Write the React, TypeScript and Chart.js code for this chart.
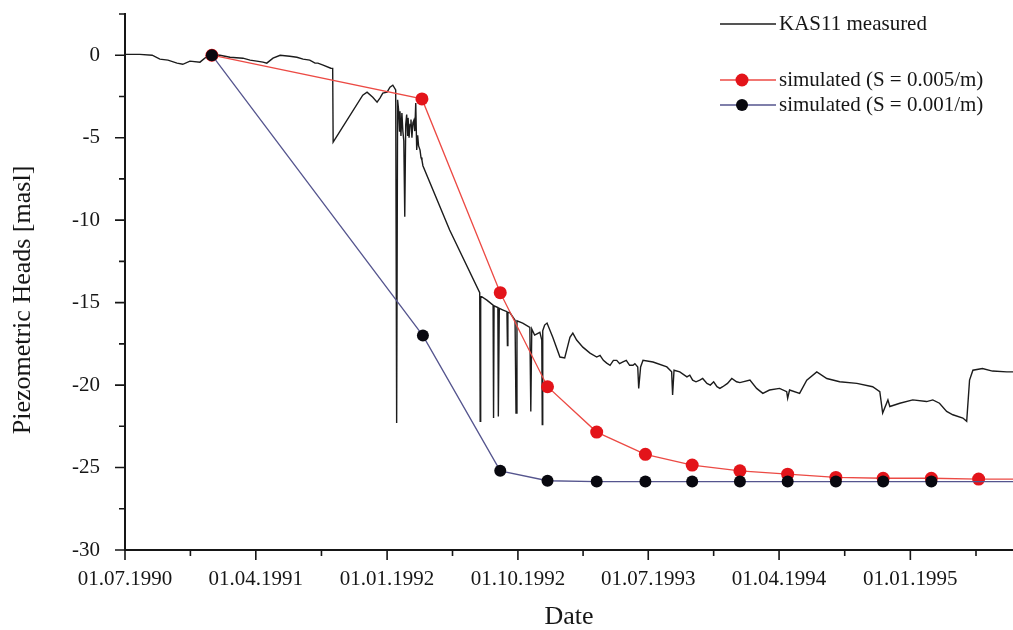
import { useEffect, useRef } from 'react';
import { Chart, registerables } from 'chart.js';

Chart.register(...registerables);

// Calendar origin of the x axis (days are counted from this date)
const ORIGIN = '01.07.1990';
const X_MAX_DAYS = 1860;

// Labelled date ticks on the x axis
const tickDates = ['01.07.1990', '01.04.1991', '01.01.1992', '01.10.1992', '01.07.1993', '01.04.1994', '01.01.1995'];

// Head ticks (every 2.5 m, labelled every 5 m)
const headTicks = [-30, -27.5, -25, -22.5, -20, -17.5, -15, -12.5, -10, -7.5, -5, -2.5, 0, 2.5];

// KAS11 measured piezometric head: [days since origin, head in masl]
const measuredKAS11: [number, number][] = [
  [0, 0.05], [31, 0.05], [57, 0], [73, -0.24], [90, -0.3], [109, -0.48], [121, -0.55], [136, -0.36],
  [157, -0.42], [172, -0.06], [180, 0.05], [199, 0], [220, -0.12], [247, -0.18], [262, -0.3], [276, -0.36],
  [289, -0.42], [297, -0.48], [310, -0.18], [325, 0], [345, -0.06], [360, -0.12], [373, -0.24], [387, -0.3],
  [398, -0.48], [404, -0.48], [415, -0.6], [431, -0.79], [435, -0.8], [436, -5.27], [498, -2.42], [507, -2.24],
  [519, -2.55], [528, -2.85], [534, -2.6], [540, -2.3], [549, -2.24], [555, -1.94], [561, -1.82], [567, -2.1],
  [569, -22.3], [571, -2.7], [573, -3.3], [575, -4.6], [576, -3.4], [578, -4.9], [580, -3.5], [582, -4.6],
  [584, -5.2], [586, -9.8], [588, -4.2], [590, -3.6], [592, -4.9], [593, -3.8], [595, -5.0], [597, -4.2],
  [599, -3.9], [601, -5.0], [603, -4.1], [605, -3.95], [607, -4.6], [609, -2.9], [611, -5.75], [613, -4.85],
  [615, -5.5], [618, -5.75], [620, -6.2], [622, -6.36], [624, -6.7], [680, -10.6], [743, -14.4], [744, -22.2],
  [745, -14.6], [758, -14.85], [771, -15.15], [772, -22.0], [773, -15.2], [781, -15.3], [782, -21.9], [784, -15.35],
  [792, -15.45], [800, -15.55], [801, -17.6], [802, -15.6], [806, -15.6], [817, -16.06], [819, -21.7], [821, -16.1],
  [833, -16.24], [848, -16.5], [850, -21.6], [852, -16.6], [858, -16.97], [869, -16.8], [873, -17.27], [874, -22.4],
  [875, -16.7], [879, -16.36], [884, -16.24], [896, -17.1], [911, -18.3], [921, -18.36], [932, -17.1], [938, -16.85],
  [946, -17.27], [959, -17.7], [974, -18.06], [988, -18.3], [995, -18.2], [1002, -18.5], [1009, -18.67], [1016, -18.8],
  [1023, -18.5], [1030, -18.5], [1036, -18.7], [1043, -18.6], [1050, -18.5], [1057, -18.8], [1064, -18.8], [1068, -18.7],
  [1074, -18.9], [1076, -20.2], [1080, -18.9], [1085, -18.5], [1106, -18.6], [1135, -18.9], [1145, -19.2], [1147, -20.6],
  [1150, -19.1], [1162, -19.2], [1177, -19.5], [1183, -19.4], [1189, -19.7], [1196, -19.8], [1204, -19.7], [1210, -19.6],
  [1219, -19.9], [1226, -20.0], [1233, -19.8], [1240, -20.1], [1246, -20.2], [1252, -20.1], [1262, -19.9], [1271, -19.6],
  [1281, -19.8], [1288, -19.85], [1309, -19.7], [1323, -20.2], [1336, -20.5], [1350, -20.3], [1371, -20.2], [1386, -20.4],
  [1388, -20.8], [1392, -20.3], [1413, -20.5], [1428, -19.7], [1449, -19.2], [1470, -19.6], [1497, -19.8], [1533, -19.9],
  [1566, -20.1], [1581, -20.4], [1587, -21.7], [1598, -20.9], [1602, -21.3], [1623, -21.1], [1650, -20.9], [1679, -21.0],
  [1692, -20.9], [1706, -21.1], [1721, -21.6], [1734, -21.8], [1755, -22.0], [1763, -22.2], [1769, -19.7], [1776, -19.1],
  [1796, -19.0], [1817, -19.15], [1847, -19.2], [1860, -19.2],
];

// Simulated heads, storage coefficient S = 0.005/m
const simDaysS005 = [182, 622, 786, 885, 988, 1090, 1188, 1288, 1388, 1489, 1588, 1689, 1788, 1888];
const simHeadsS005 = [0, -2.65, -14.4, -20.1, -22.85, -24.2, -24.85, -25.2, -25.4, -25.6, -25.65, -25.65, -25.7, -25.7];

// Simulated heads, storage coefficient S = 0.001/m
const simDaysS001 = [182, 624, 786, 885, 988, 1090, 1188, 1288, 1388, 1489, 1588, 1689, 1888];
const simHeadsS001 = [0, -17.0, -25.2, -25.8, -25.85, -25.85, -25.85, -25.85, -25.85, -25.85, -25.85, -25.85, -25.85];

const SERIF = "'Liberation Serif', 'Times New Roman', serif";
const INK = '#161616';

function dayOf(label: string): number {
  const [d, m, y] = label.split('.').map(Number);
  const [d0, m0, y0] = ORIGIN.split('.').map(Number);
  return Math.round((Date.UTC(y, m - 1, d) - Date.UTC(y0, m0 - 1, d0)) / 86400000);
}

const majorDays = tickDates.map(dayOf);
const minorDays = majorDays.map((d, i) =>
  i < majorDays.length - 1 ? (d + majorDays[i + 1]) / 2 : d + (d - majorDays[i - 1]) / 2
);

// Tick marks: long for labelled ticks, short for the intermediate ones
const tickMarks = {
  id: 'tickMarks',
  afterDraw(chart: any) {
    const { ctx, chartArea: a, scales } = chart;
    const x = scales.x;
    const y = scales.y;
    ctx.save();
    ctx.strokeStyle = INK;
    ctx.lineWidth = 1.6;
    ctx.beginPath();
    x.ticks.forEach((t: any) => {
      const px = x.getPixelForValue(t.value);
      const len = t.label ? 10 : 6;
      ctx.moveTo(px, a.bottom);
      ctx.lineTo(px, a.bottom + len);
    });
    y.ticks.forEach((t: any) => {
      const py = y.getPixelForValue(t.value);
      const len = t.label ? 10 : 6;
      ctx.moveTo(a.left, py);
      ctx.lineTo(a.left - len, py);
    });
    ctx.stroke();
    ctx.restore();
  },
};

// Rotated y-axis title
const yTitle = {
  id: 'yTitle',
  afterDraw(chart: any) {
    const { ctx } = chart;
    ctx.save();
    ctx.translate(23, 300);
    ctx.rotate(-Math.PI / 2);
    ctx.font = `26px ${SERIF}`;
    ctx.fillStyle = INK;
    ctx.textAlign = 'center';
    ctx.textBaseline = 'middle';
    ctx.fillText('Piezometric Heads [masl]', 0, 0);
    ctx.restore();
  },
};

// Legend block in the upper right corner
const legendBlock = {
  id: 'legendBlock',
  afterDraw(chart: any) {
    const { ctx } = chart;
    const rows = [24, 80, 105];
    ctx.save();
    ctx.font = `21px ${SERIF}`;
    ctx.textAlign = 'left';
    ctx.textBaseline = 'middle';
    chart.data.datasets.forEach((ds: any, i: number) => {
      const yy = rows[i];
      ctx.strokeStyle = ds.borderColor;
      ctx.lineWidth = ds.borderWidth;
      ctx.beginPath();
      ctx.moveTo(720, yy);
      ctx.lineTo(776, yy);
      ctx.stroke();
      if (ds.pointRadius > 0) {
        ctx.fillStyle = ds.pointBackgroundColor;
        ctx.beginPath();
        ctx.arc(742, yy, ds.pointRadius, 0, Math.PI * 2);
        ctx.fill();
      }
      ctx.fillStyle = INK;
      ctx.fillText(ds.label, 779, yy);
    });
    ctx.restore();
  },
};

export default function App() {
  const ref = useRef<HTMLCanvasElement | null>(null);

  useEffect(() => {
    if (!ref.current) return;
    const chart = new Chart(ref.current, {
      type: 'line',
      data: {
        datasets: [
          {
            label: 'KAS11 measured',
            data: measuredKAS11.map(([d, h]) => ({ x: d, y: h })),
            borderColor: '#1c1c1c',
            borderWidth: 1.4,
            pointRadius: 0,
            tension: 0,
            order: 3,
          },
          {
            label: 'simulated (S = 0.005/m)',
            data: simDaysS005.map((d, i) => ({ x: d, y: simHeadsS005[i] })),
            borderColor: '#ec4a44',
            borderWidth: 1.3,
            pointRadius: 6.5,
            pointBackgroundColor: '#e3141a',
            pointBorderWidth: 0,
            tension: 0,
            order: 2,
          },
          {
            label: 'simulated (S = 0.001/m)',
            data: simDaysS001.map((d, i) => ({ x: d, y: simHeadsS001[i] })),
            borderColor: '#55558e',
            borderWidth: 1.3,
            pointRadius: 6,
            pointBackgroundColor: '#08080f',
            pointBorderWidth: 0,
            tension: 0,
            order: 1,
          },
        ],
      },
      options: {
        responsive: false,
        maintainAspectRatio: false,
        animation: false,
        layout: { autoPadding: false, padding: { top: 14, left: 0, right: 0, bottom: 0 } },
        plugins: {
          legend: { display: false },
          tooltip: { enabled: false },
        },
        scales: {
          x: {
            type: 'linear',
            min: 0,
            max: X_MAX_DAYS,
            afterFit: (s: any) => {
              s.height = 80;
              s.paddingLeft = 0;
              s.paddingRight = 0;
            },
            afterBuildTicks: (s: any) => {
              s.ticks = [...majorDays, ...minorDays]
                .sort((a, b) => a - b)
                .map((v) => ({ value: v }));
            },
            grid: { display: true, drawOnChartArea: false, drawTicks: true, tickLength: 17, color: 'rgba(0,0,0,0)' },
            border: { display: true, color: INK, width: 2 },
            ticks: {
              autoSkip: false,
              maxRotation: 0,
              padding: 0,
              color: INK,
              font: { family: SERIF, size: 21 },
              callback: (v: any) => {
                const i = majorDays.indexOf(Number(v));
                return i >= 0 ? tickDates[i] : '';
              },
            },
            title: {
              display: true,
              text: 'Date',
              color: INK,
              font: { family: SERIF, size: 26 },
              padding: { top: 0, bottom: -3 },
            },
          },
          y: {
            type: 'linear',
            min: -30,
            max: 2.5,
            afterFit: (s: any) => {
              s.width = 125;
              s.paddingTop = 0;
              s.paddingBottom = 0;
            },
            afterBuildTicks: (s: any) => {
              s.ticks = headTicks.map((v) => ({ value: v }));
            },
            grid: { display: true, drawOnChartArea: false, drawTicks: true, tickLength: 25, color: 'rgba(0,0,0,0)' },
            border: { display: true, color: INK, width: 2 },
            ticks: {
              autoSkip: false,
              padding: 0,
              color: INK,
              font: { family: SERIF, size: 21 },
              callback: (v: any) => (Number(v) % 5 === 0 ? String(Number(v)) : ''),
            },
          },
        },
      },
      plugins: [tickMarks, yTitle, legendBlock],
    });
    return () => chart.destroy();
  }, []);

  return (
    <div style={{ position: 'absolute', left: 0, top: 0, width: 1013, height: 630, background: '#fff' }}>
      <canvas ref={ref} width={1013} height={630} />
    </div>
  );
}
